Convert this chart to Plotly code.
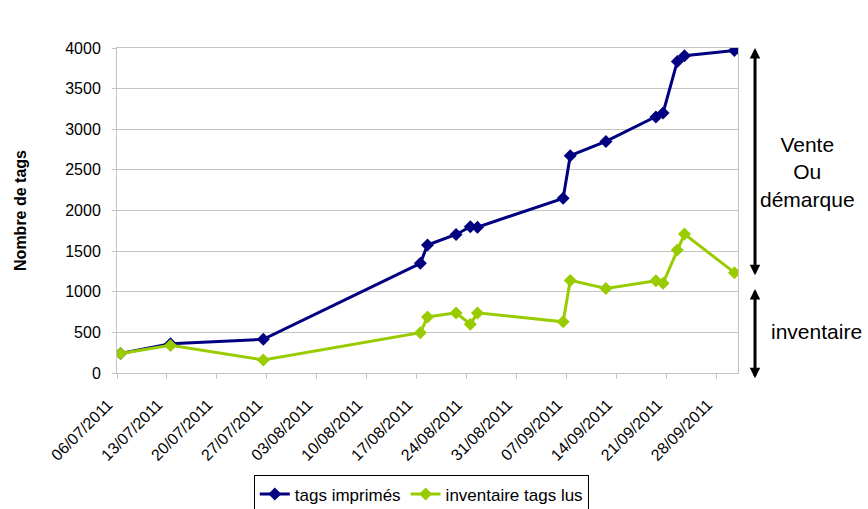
import plotly.graph_objects as go

# Dates des relevés
dates = [
    "2011-07-06", "2011-07-13", "2011-07-26", "2011-08-17", "2011-08-18",
    "2011-08-22", "2011-08-24", "2011-08-25", "2011-09-06", "2011-09-07",
    "2011-09-12", "2011-09-19", "2011-09-20", "2011-09-22", "2011-09-23",
    "2011-09-30",
]
# Nombre cumulé de tags imprimés
tags_imprimes = [240, 360, 415, 1350, 1575, 1705, 1800, 1795, 2150, 2675,
                 2850, 3150, 3200, 3835, 3905, 3970]
# Nombre de tags lus lors des inventaires
inventaire_tags_lus = [240, 340, 160, 495, 690, 740, 600, 740, 630, 1140,
                       1040, 1135, 1105, 1515, 1710, 1235]

# Graduations hebdomadaires de l'axe des dates (bord de chaque jour)
tick_positions = [
    "2011-07-05 12:00", "2011-07-12 12:00", "2011-07-19 12:00", "2011-07-26 12:00",
    "2011-08-02 12:00", "2011-08-09 12:00", "2011-08-16 12:00", "2011-08-23 12:00",
    "2011-08-30 12:00", "2011-09-06 12:00", "2011-09-13 12:00", "2011-09-20 12:00",
    "2011-09-27 12:00",
]
tick_labels = [
    "06/07/2011", "13/07/2011", "20/07/2011", "27/07/2011", "03/08/2011",
    "10/08/2011", "17/08/2011", "24/08/2011", "31/08/2011", "07/09/2011",
    "14/09/2011", "21/09/2011", "28/09/2011",
]
x_range = ["2011-07-05 12:00", "2011-09-30 12:00"]

FONT = "Liberation Sans, Arial, sans-serif"
GRID = "#c4c4c4"

fig = go.Figure()
fig.add_trace(go.Scatter(
    x=dates, y=tags_imprimes, name="tags imprimés", mode="lines+markers",
    line=dict(color="#000080", width=3),
    marker=dict(symbol="diamond", size=10, color="#000080"),
))
fig.add_trace(go.Scatter(
    x=dates, y=inventaire_tags_lus, name="inventaire tags lus", mode="lines+markers",
    line=dict(color="#99cc00", width=3),
    marker=dict(symbol="diamond", size=10, color="#99cc00"),
))

fig.update_layout(
    width=868, height=509,
    margin=dict(l=117, r=130, t=48, b=136, autoexpand=False),
    paper_bgcolor="white", plot_bgcolor="white",
    font=dict(family=FONT, size=16, color="#000000"),
    showlegend=True,
    legend=dict(
        orientation="h", x=0.49, xanchor="center", y=-0.315, yanchor="top",
        bordercolor="#000000", borderwidth=1, font=dict(size=17),
        bgcolor="white",
    ),
)

fig.update_xaxes(
    type="date", range=x_range, automargin=False,
    tickmode="array", tickvals=tick_positions, ticktext=tick_labels,
    tickangle=-45, ticks="outside", ticklen=5, tickcolor=GRID,
    ticklabelstandoff=10, ticklabelshift=-9,
    showgrid=False, showline=True, linecolor=GRID, linewidth=1, mirror=True,
    zeroline=False, tickfont=dict(size=16),
)
fig.update_yaxes(
    range=[0, 4000], dtick=500, tick0=0, automargin=False,
    ticks="outside", ticklen=4, tickcolor=GRID, ticklabelstandoff=8,
    showgrid=True, gridcolor=GRID, gridwidth=1,
    showline=True, linecolor=GRID, linewidth=1, mirror=True,
    zeroline=False, tickfont=dict(size=16),
    title=dict(text="<b>Nombre de tags</b>", font=dict(size=16), standoff=34),
)

# Flèches doubles à droite du graphique
arrow_style = dict(
    xref="paper", axref="pixel", ax=0, yref="y", ayref="y",
    showarrow=True, arrowside="end+start", arrowhead=2, startarrowhead=2,
    arrowwidth=3, arrowsize=0.7, startarrowsize=0.7, arrowcolor="#000000",
    text="",
)
fig.add_annotation(x=1.0274, y=4000, ay=1184, **arrow_style)
fig.add_annotation(x=1.0274, y=-65, ay=1053, **arrow_style)

fig.add_annotation(
    x=1.1127, y=0.618, xref="paper", yref="paper", showarrow=False,
    xanchor="center", yanchor="middle",
    text="Vente<br>Ou<br>démarque", align="center",
    font=dict(size=21, family=FONT, color="#000000"),
)
fig.add_annotation(
    x=1.127, y=0.127, xref="paper", yref="paper", showarrow=False,
    xanchor="center", yanchor="middle",
    text="inventaire", align="center",
    font=dict(size=21, family=FONT, color="#000000"),
)

fig.write_html("out.html")
